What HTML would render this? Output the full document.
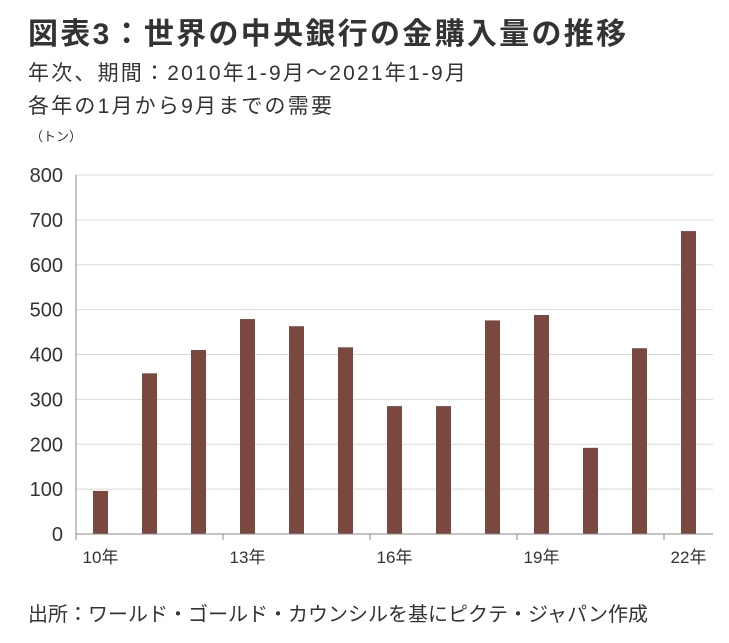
<!DOCTYPE html>
<html><head><meta charset="utf-8"><style>
body{margin:0;background:#fff;width:729px;height:643px;overflow:hidden;font-family:"Liberation Sans","Noto Sans CJK JP",sans-serif;color:#333}
.t{position:absolute;white-space:nowrap}
</style></head><body>
<div class="t" style="left:28px;top:9px;font-size:30px;letter-spacing:2.3px;font-weight:bold;color:#333">図表3：世界の中央銀行の金購入量の推移</div>
<div class="t" style="left:28px;top:57px;font-size:21px;letter-spacing:2.2px">年次、期間：2010年1-9月～2021年1-9月</div>
<div class="t" style="left:28px;top:90px;font-size:21px;letter-spacing:2.2px">各年の1月から9月までの需要</div>
<div class="t" style="left:30px;top:126px;font-size:13px">（トン）</div>
<div class="t" style="left:28px;top:598px;font-size:20px">出所：ワールド・ゴールド・カウンシルを基にピクテ・ジャパン作成</div>
<svg id="c" width="729" height="643" style="position:absolute;left:0;top:0"></svg>
<script>
const categories=["10年","11年","12年","13年","14年","15年","16年","17年","18年","19年","20年","21年","22年"];
const values=[96,358,410,479,463,416,285,285,476,488,192,414,675];
const yTicks=[0,100,200,300,400,500,600,700,800];
const xLabelIdx=[0,3,6,9,12];
const svg=document.getElementById('c');const NS='http://www.w3.org/2000/svg';
const x0=76,cw=49,yb=534,yt=175,ymax=800;
const y=v=>yb-(v/ymax)*(yb-yt);
function mk(t,a){const e=document.createElementNS(NS,t);for(const k in a)e.setAttribute(k,a[k]);svg.appendChild(e);return e;}
yTicks.forEach(v=>{
 if(v>0){const g=mk('line',{x1:x0,x2:713,y1:y(v),y2:y(v),stroke:'#d9d9d9','stroke-width':1});
 
 }
 const t=mk('text',{x:63,y:y(v)+7,'text-anchor':'end','font-size':20,fill:'#333','font-family':'Liberation Sans, sans-serif'});t.textContent=v;
 
 
});
values.forEach((v,i)=>{
 const r=mk('rect',{x:x0+i*cw+cw/2-7.5,y:y(v),width:15,height:yb-y(v),fill:'#7b4840'});
 
 
});
const ax=mk('line',{x1:x0,x2:x0,y1:yt,y2:yb+6,stroke:'#888','stroke-width':1});


const bx=mk('line',{x1:x0,x2:713,y1:yb,y2:yb,stroke:'#888','stroke-width':1});


xLabelIdx.forEach(i=>{
 const tk=mk('line',{x1:x0+i*cw,x2:x0+i*cw,y1:yb,y2:yb+6,stroke:'#888'});
 
 
 const t=mk('text',{x:x0+i*cw+cw/2,y:yb+29,'text-anchor':'middle','font-size':17,fill:'#333','font-family':'Liberation Sans, Noto Sans CJK JP, sans-serif'});t.textContent=categories[i];
 
 
});
</script>
</body></html>
